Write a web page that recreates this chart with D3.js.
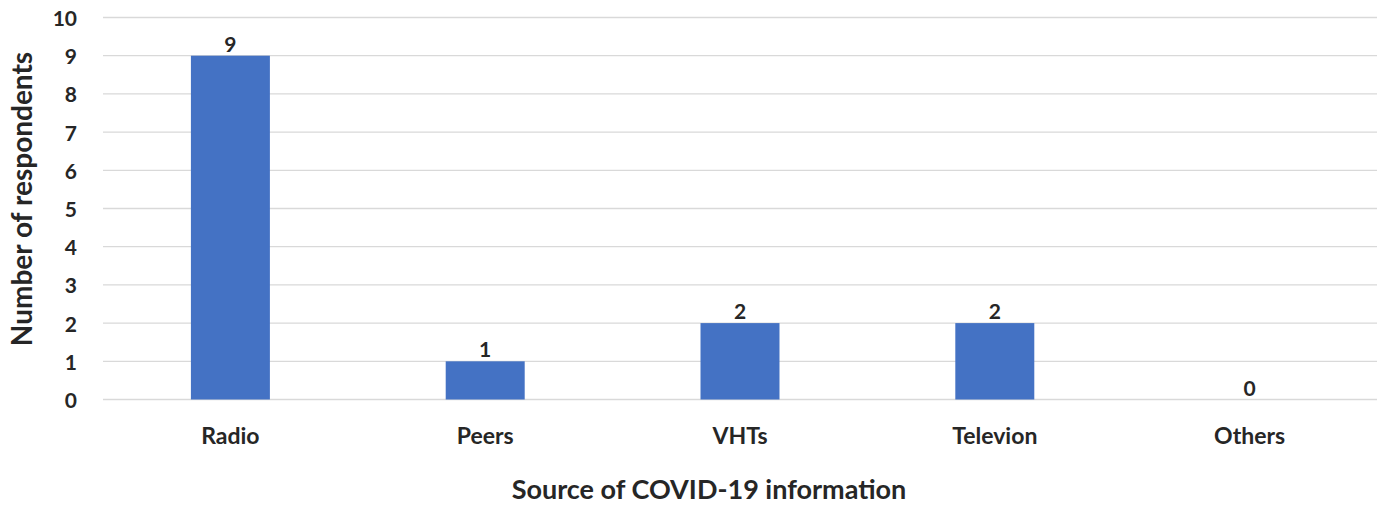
<!DOCTYPE html>
<html lang="en">
<head>
    <meta charset="utf-8">
    <title>Source of COVID-19 information</title>
    <style>
        body {
            margin: 0;
            background: #fff;
        }

        svg {
            display: block;
            font-family: Lato, "Open Sans", sans-serif;
            font-weight: bold;
        }

        .grid line {
            stroke: #d9d9d9;
            stroke-width: 1.3;
        }

        .tick-label, .value-label, .axis-title {
            fill: #262626;
        }
    </style>
</head>
<body>

<svg width="1383" height="506"></svg>

<script src="https://d3js.org/d3.v7.min.js"></script>
<script>

    // data
    const categories = ["Radio", "Peers", "VHTs", "Televion", "Others"];
    const respondents = [9, 1, 2, 2, 0];
    const yTicks = [0, 1, 2, 3, 4, 5, 6, 7, 8, 9, 10];

    const margin = {top: 17.5, right: 6, bottom: 106.5, left: 103};

    const svg = d3.select("svg");
    const width = +svg.attr("width") - margin.left - margin.right;
    const height = +svg.attr("height") - margin.top - margin.bottom;

    const vis = svg.append("g")
        .attr("transform", `translate(${margin.left},${margin.top})`);

    const x = d3.scaleBand()
        .domain(categories)
        .range([0, width]);

    const y = d3.scaleLinear()
        .domain([0, 10])
        .range([height, 0]);

    const barWidth = x.bandwidth() * 0.31;

    // gridlines
    vis.append("g")
        .attr("class", "grid")
        .selectAll("line")
        .data(yTicks)
        .enter()
        .append("line")
        .attr("x1", 0)
        .attr("x2", width)
        .attr("y1", d => y(d))
        .attr("y2", d => y(d));

    // y tick labels
    vis.append("g")
        .selectAll("text")
        .data(yTicks)
        .enter()
        .append("text")
        .attr("class", "tick-label")
        .attr("x", -26)
        .attr("y", d => y(d))
        .attr("dy", "0.4em")
        .attr("text-anchor", "end")
        .style("font-size", "21px")
        .text(d => d);

    // bars
    vis.selectAll(".bar")
        .data(respondents)
        .enter()
        .append("rect")
        .attr("class", "bar")
        .attr("x", (d, i) => x(categories[i]) + x.bandwidth() / 2 - barWidth / 2)
        .attr("y", d => y(d))
        .attr("width", barWidth)
        .attr("height", d => height - y(d))
        .attr("fill", "#4472c4");

    // value labels
    vis.selectAll(".value-label")
        .data(respondents)
        .enter()
        .append("text")
        .attr("class", "value-label")
        .attr("x", (d, i) => x(categories[i]) + x.bandwidth() / 2)
        .attr("y", d => y(d) - 4)
        .attr("text-anchor", "middle")
        .style("font-size", "21px")
        .text(d => d);

    // category labels
    vis.selectAll(".cat-label")
        .data(categories)
        .enter()
        .append("text")
        .attr("class", "tick-label")
        .attr("x", d => x(d) + x.bandwidth() / 2)
        .attr("y", height + 44)
        .attr("text-anchor", "middle")
        .style("font-size", "23px")
        .text(d => d);

    // axis titles
    svg.append("text")
        .attr("class", "axis-title")
        .attr("x", 709)
        .attr("y", 499)
        .attr("text-anchor", "middle")
        .style("font-size", "27px")
        .text("Source of COVID-19 information");

    svg.append("text")
        .attr("class", "axis-title")
        .attr("transform", "translate(32,199) rotate(-90)")
        .attr("text-anchor", "middle")
        .style("font-size", "28px")
        .text("Number of respondents");

</script>

</body>
</html>
